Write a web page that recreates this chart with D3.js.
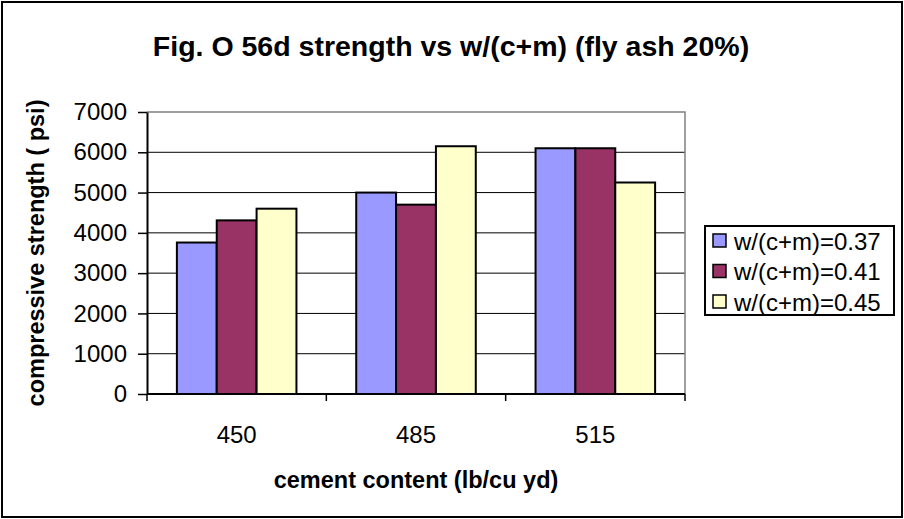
<!DOCTYPE html>
<html lang="en">
<head>
  <meta charset="UTF-8" />
  <title>Fig. O 56d strength vs w/(c+m)</title>
  <style>
    body { margin: 0; background: #fff; font-family: Arial, "Liberation Sans", sans-serif; }
    svg { display: block; }
  </style>
</head>
<body>
  <div id="chart"></div>

  <script src="https://d3js.org/d3.v7.min.js"></script>
  <script>
    // values
    const cementContent = ["450", "485", "515"];
    const seriesNames = ["w/(c+m)=0.37", "w/(c+m)=0.41", "w/(c+m)=0.45"];
    const strength037 = [3760, 5000, 6100];
    const strength041 = [4310, 4700, 6100];
    const strength045 = [4600, 6150, 5250];
    const yTicks = [0, 1000, 2000, 3000, 4000, 5000, 6000, 7000];
    const seriesColors = ["#9999ff", "#993366", "#ffffcc"];

    const seriesValues = [strength037, strength041, strength045];

    const width = 904, height = 519;
    const plot = { left: 147, right: 685, top: 112, bottom: 394 };

    const svg = d3.select("#chart").append("svg")
      .attr("width", width)
      .attr("height", height);

    // outer frame
    svg.append("rect")
      .attr("x", 2).attr("y", 2)
      .attr("width", width - 4).attr("height", height - 4)
      .attr("fill", "#fff").attr("stroke", "#000").attr("stroke-width", 2);

    const x = d3.scaleBand()
      .domain(cementContent)
      .range([plot.left, plot.right]);

    // Excel style gap width of 150%
    const x1 = d3.scaleBand()
      .domain(seriesNames)
      .range([0, x.bandwidth()])
      .paddingOuter(0.75)
      .paddingInner(0);

    const y = d3.scaleLinear()
      .domain([0, 7000])
      .range([plot.bottom, plot.top]);

    // gridlines
    svg.append("g")
      .selectAll("line")
      .data(yTicks.filter(d => d > 0 && d < 7000))
      .enter()
      .append("line")
      .attr("x1", plot.left).attr("x2", plot.right)
      .attr("y1", d => y(d)).attr("y2", d => y(d))
      .attr("stroke", "#000").attr("stroke-width", 1);

    // plot area border (top and right in grey)
    svg.append("path")
      .attr("d", `M${plot.left},${plot.top}H${plot.right}V${plot.bottom}`)
      .attr("fill", "none").attr("stroke", "#808080").attr("stroke-width", 1.5);

    // bars
    const groups = svg.append("g")
      .selectAll("g")
      .data(cementContent)
      .enter()
      .append("g")
      .attr("transform", d => `translate(${x(d)},0)`);

    groups.selectAll("rect")
      .data((d, i) => seriesNames.map((s, k) => ({ s, k, v: seriesValues[k][i] })))
      .enter()
      .append("rect")
      .attr("x", d => x1(d.s))
      .attr("width", x1.bandwidth())
      .attr("y", d => y(d.v))
      .attr("height", d => y(0) - y(d.v))
      .attr("fill", d => seriesColors[d.k])
      .attr("stroke", "#000").attr("stroke-width", 2);

    // y axis
    const yAxis = svg.append("g")
      .attr("transform", `translate(${plot.left},0)`)
      .call(d3.axisLeft(y).tickValues(yTicks).tickFormat(d3.format("d"))
        .tickSize(9).tickPadding(11).tickSizeOuter(0));
    yAxis.select(".domain").attr("stroke", "#000").attr("stroke-width", 2);
    yAxis.selectAll(".tick line").attr("stroke", "#000").attr("stroke-width", 1.5);
    yAxis.selectAll("text")
      .attr("font-family", "Arial, 'Liberation Sans', sans-serif")
      .attr("font-size", 24).attr("fill", "#000");

    // x axis with ticks between categories
    const xAxis = svg.append("g")
      .attr("transform", `translate(0,${plot.bottom})`);
    xAxis.append("line")
      .attr("x1", plot.left).attr("x2", plot.right)
      .attr("stroke", "#000").attr("stroke-width", 2);
    const boundaries = cementContent.map(c => x(c)).concat([plot.right]);
    xAxis.selectAll(".sep")
      .data(boundaries)
      .enter()
      .append("line")
      .attr("x1", d => d).attr("x2", d => d)
      .attr("y1", 0).attr("y2", 7)
      .attr("stroke", "#000").attr("stroke-width", 1.5);
    xAxis.selectAll(".lbl")
      .data(cementContent)
      .enter()
      .append("text")
      .attr("x", d => x(d) + x.bandwidth() / 2)
      .attr("y", 49)
      .attr("text-anchor", "middle")
      .attr("font-size", 24)
      .text(d => d);

    // titles
    svg.append("text")
      .attr("x", 451).attr("y", 56)
      .attr("text-anchor", "middle")
      .attr("font-size", 28.5).attr("font-weight", "bold")
      .text("Fig. O 56d strength vs w/(c+m) (fly ash 20%)");

    svg.append("text")
      .attr("x", 416).attr("y", 488)
      .attr("text-anchor", "middle")
      .attr("font-size", 23.5).attr("font-weight", "bold")
      .text("cement content (lb/cu yd)");

    svg.append("text")
      .attr("transform", `translate(44,${(plot.top + plot.bottom) / 2}) rotate(-90)`)
      .attr("text-anchor", "middle")
      .attr("font-size", 23.5).attr("font-weight", "bold")
      .text("compressive strength ( psi)");

    // legend
    const legend = svg.append("g");
    legend.append("rect")
      .attr("x", 705).attr("y", 226)
      .attr("width", 189).attr("height", 89)
      .attr("fill", "#fff").attr("stroke", "#000").attr("stroke-width", 2);

    const items = legend.selectAll(".item")
      .data(seriesNames)
      .enter()
      .append("g")
      .attr("transform", (d, i) => `translate(713,${241 + i * 30.5})`);
    items.append("rect")
      .attr("x", 0).attr("y", -7)
      .attr("width", 13).attr("height", 13)
      .attr("fill", (d, i) => seriesColors[i])
      .attr("stroke", "#000").attr("stroke-width", 1.5);
    items.append("text")
      .attr("x", 21).attr("y", 8.5)
      .attr("font-size", 24)
      .text(d => d);
  </script>
</body>
</html>
